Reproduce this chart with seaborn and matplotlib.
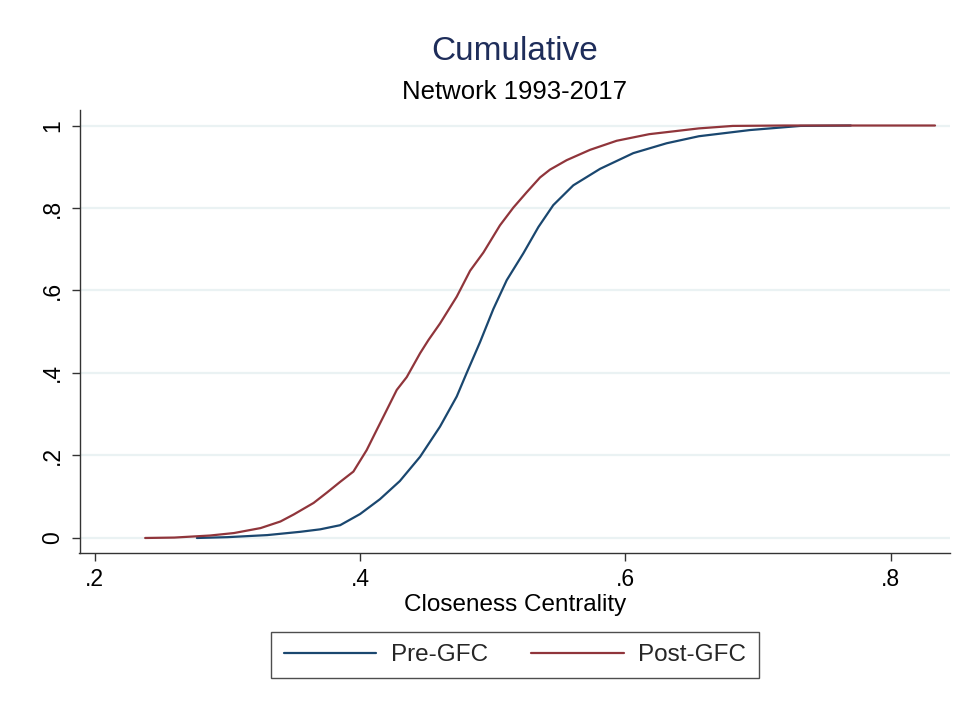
import numpy as np
import pandas as pd
import matplotlib
matplotlib.use("Agg")
import matplotlib.pyplot as plt
import seaborn as sns
from matplotlib.lines import Line2D

# ---- data ----
pre_x = [0.277, 0.30, 0.33, 0.355, 0.37, 0.385, 0.40, 0.415, 0.43, 0.4453, 0.4603,
         0.4729, 0.4804, 0.4905, 0.5005, 0.5106, 0.5231, 0.5345, 0.5457, 0.5608,
         0.581, 0.606, 0.6312, 0.6555, 0.694, 0.732, 0.77]
pre_y = [0.0, 0.002, 0.007, 0.015, 0.021, 0.031, 0.058, 0.094, 0.138, 0.197, 0.27,
         0.343, 0.40, 0.475, 0.555, 0.625, 0.69, 0.754, 0.807, 0.855,
         0.895, 0.933, 0.957, 0.974, 0.989, 0.999, 1.0]
post_x = [0.238, 0.26, 0.287, 0.305, 0.325, 0.34, 0.35, 0.365, 0.375, 0.385, 0.395,
          0.405, 0.4126, 0.4176, 0.4277, 0.4352, 0.4453, 0.4516, 0.4603, 0.4729,
          0.483, 0.493, 0.5055, 0.5156, 0.5256, 0.5357, 0.5432, 0.5558, 0.5734,
          0.5935, 0.618, 0.6555, 0.681, 0.72, 0.8335]
post_y = [0.0, 0.001, 0.006, 0.012, 0.024, 0.04, 0.057, 0.085, 0.11, 0.136, 0.161,
          0.213, 0.262, 0.294, 0.359, 0.39, 0.448, 0.48, 0.52, 0.585,
          0.648, 0.692, 0.758, 0.801, 0.838, 0.874, 0.893, 0.916, 0.941,
          0.963, 0.979, 0.993, 0.999, 1.0, 1.0]
series_names = ["Pre-GFC", "Post-GFC"]
x_ticks = [0.2, 0.4, 0.6, 0.8]
x_ticklabels = [".2", ".4", ".6", ".8"]
y_ticks = [0, 0.2, 0.4, 0.6, 0.8, 1.0]
y_ticklabels = ["0", ".2", ".4", ".6", ".8", "1"]

df = pd.concat([
    pd.DataFrame({"x": pre_x, "y": pre_y, "group": series_names[0]}),
    pd.DataFrame({"x": post_x, "y": post_y, "group": series_names[1]}),
], ignore_index=True)

sns.set_theme(style="white")
plt.rcParams["font.family"] = ["Liberation Sans", "DejaVu Sans"]

fig = plt.figure(figsize=(9.64, 7.06), dpi=100)
ax = fig.add_axes([79.5 / 964, 1 - 553 / 706, (950 - 79.5) / 964, (553 - 110) / 706])

palette = {"Pre-GFC": "#1a476f", "Post-GFC": "#90353b"}
sns.lineplot(data=df, x="x", y="y", hue="group", palette=palette, sort=False,
             estimator=None, linewidth=1.6, ax=ax, legend=False)

ax.set_xlim(0.1885, 0.8448)
ax.set_ylim(-0.0364, 1.0376)
ax.set_xticks(x_ticks)
ax.set_xticklabels(x_ticklabels)
ax.set_yticks(y_ticks)
ax.set_yticklabels(y_ticklabels, rotation=90, va="center")
for yv in y_ticks:
    ax.axhline(yv, color="#eaf2f3", linewidth=1.6, zorder=0)
ax.grid(False)

for s in ["top", "right"]:
    ax.spines[s].set_visible(False)
for s in ["left", "bottom"]:
    ax.spines[s].set_color("#333333")
    ax.spines[s].set_linewidth(1.0)
ax.tick_params(axis="both", direction="out", length=6, width=1.0, color="#333333",
               labelsize=16.5, labelcolor="black", pad=5, left=True, bottom=True)
ax.set_xlabel("Closeness Centrality", fontsize=17.5, color="black", labelpad=2)
ax.set_ylabel("")

fig.text(515 / 964, 1 - 52 / 706, "Cumulative", ha="center", va="center",
         fontsize=24, color="#1e2d5a")
fig.text(515 / 964, 1 - 92 / 706, "Network 1993-2017", ha="center", va="center",
         fontsize=18.5, color="black")

handles = [Line2D([], [], color=palette[n], linewidth=1.6) for n in series_names]
leg = fig.legend(handles, series_names, loc="center", bbox_to_anchor=(515 / 964, 1 - 655 / 706),
                 ncol=2, frameon=True, fancybox=False, edgecolor="#222222", fontsize=17.5,
                 handlelength=3.8, handletextpad=0.6, columnspacing=1.8,
                 borderpad=0.5, borderaxespad=0)
leg.get_frame().set_linewidth(1.0)

fig.savefig("out.png", dpi=100, facecolor="white")
